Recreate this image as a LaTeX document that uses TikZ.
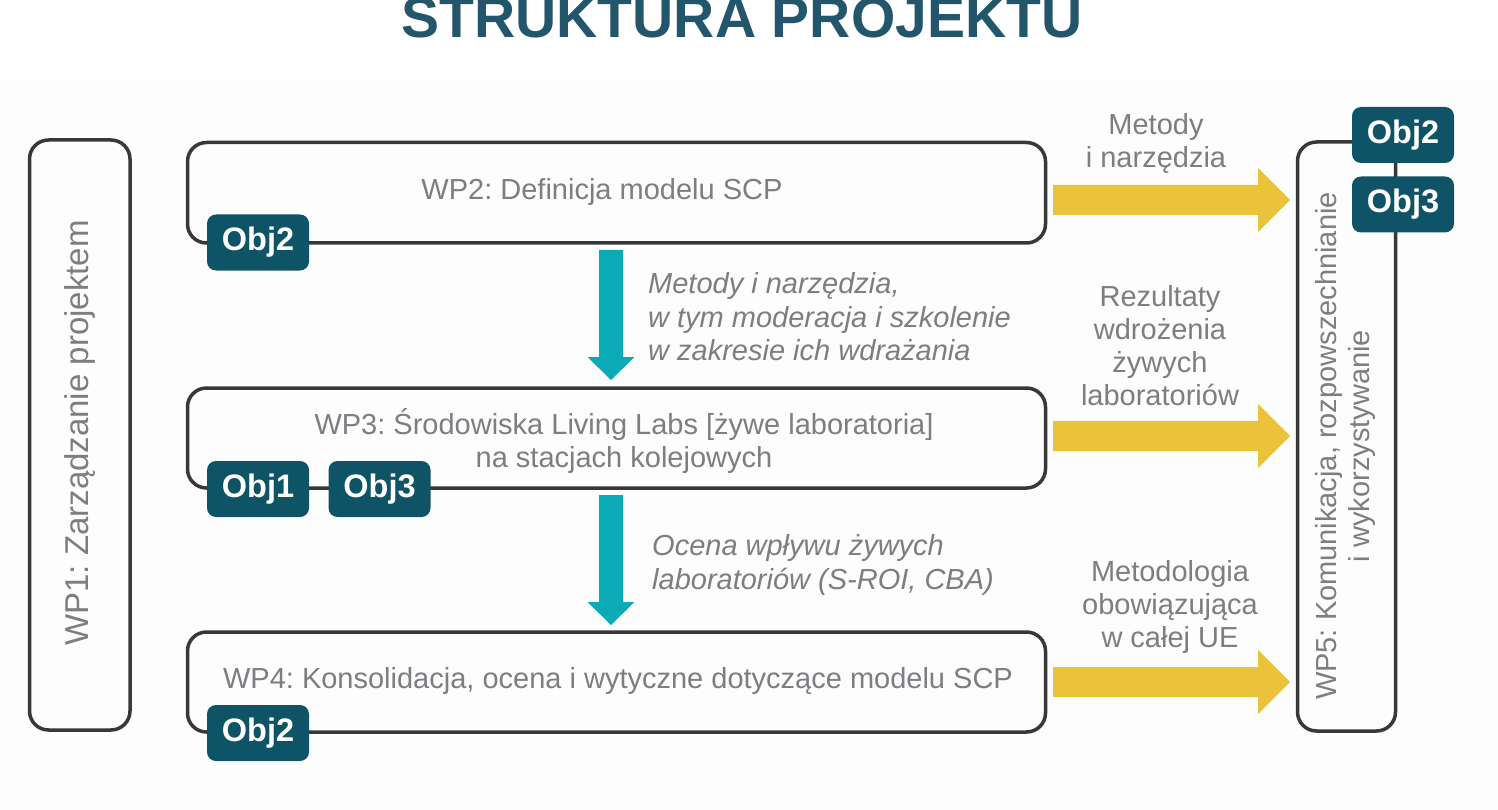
\documentclass[tikz,border=0pt]{standalone}
\usepackage{fontspec}
\setmainfont{Liberation Sans}
\usetikzlibrary{calc}
\frenchspacing
\definecolor{titlec}{HTML}{23566A}
\definecolor{objc}{HTML}{0F5466}
\definecolor{linec}{HTML}{383838}
\definecolor{txtc}{HTML}{7D7D82}
\definecolor{cyanc}{HTML}{0AABB6}
\definecolor{yelc}{HTML}{EBC33A}
\definecolor{bgc}{HTML}{FDFDFD}
\newcommand\myharrow[2]{%
  \fill[yelc] ($(#1)+(0,-15)$) -- ($(#2)+(-32,-15)$) -- ($(#2)+(-32,-32)$) -- (#2)
    -- ($(#2)+(-32,32)$) -- ($(#2)+(-32,15)$) -- ($(#1)+(0,15)$) -- cycle;}
\newcommand\myvarrow[2]{%
  \fill[cyanc] ($(#1)+(-12,0)$) -- ($(#2)+(-12,-23)$) -- ($(#2)+(-23.5,-23)$) -- (#2)
    -- ($(#2)+(23.5,-23)$) -- ($(#2)+(12,-23)$) -- ($(#1)+(12,0)$) -- cycle;}
\tikzset{
  box/.style={draw=linec, line width=3.5pt, rounded corners=19pt, inner sep=0pt},
  obj/.style={fill=objc, rounded corners=9pt, minimum width=102pt, minimum height=56pt,
    text=white, font=\fontsize{32.5}{32.5}\selectfont\bfseries, inner sep=0pt},
  lbl/.style={text=txtc, font=\fontsize{29}{33}\selectfont, align=center, inner sep=0pt},
  ital/.style={text=txtc, font=\fontsize{29}{33.5}\selectfont\itshape, align=left, inner sep=0pt},
}
\begin{document}
\begin{tikzpicture}[x=1pt,y=-1pt]
\useasboundingbox (0,0) rectangle (1498,810);
\fill[white] (0,0) rectangle (1498,810);
\fill[bgc] (0,80) rectangle (1498,810);

% title
\node[font=\fontsize{57}{57}\selectfont\bfseries, text=titlec, anchor=base, inner sep=0pt] (title) at (742,38) {STRUKTURA PROJEKTU};

% boxes
\node[box, minimum width=100.5pt, minimum height=590pt] (wp1) at (79.75,435) {};
\node[box, minimum width=858pt, minimum height=100.5pt] (wp2) at (616.5,192.75) {};
\node[box, minimum width=858pt, minimum height=100pt] (wp3) at (616.5,438) {};
\node[box, minimum width=858pt, minimum height=100pt] (wp4) at (616.5,682) {};
\node[box, minimum width=98pt, minimum height=589pt] (wp5) at (1346.5,436.5) {};

% box texts
\node[lbl, rotate=90, font=\fontsize{33}{33}\selectfont] (wp1t) at (80,433) {WP1: Zarządzanie projektem};
\node[lbl] (wp2t) at (602,192) {WP2: Definicja modelu SCP};
\node[lbl] (wp3t) at (624,441) {WP3: Środowiska Living Labs [żywe laboratoria]\\na stacjach kolejowych};
\node[lbl] (wp4t) at (618,681) {WP4: Konsolidacja, ocena i wytyczne dotyczące modelu SCP};
\node[lbl, rotate=90] (wp5t) at (1345,446) {WP5: Komunikacja, rozpowszechnianie\\i wykorzystywanie};

% vertical arrows
\coordinate (ca1s) at (611,250); \coordinate (ca1e) at (611,380);
\coordinate (ca2s) at (611,495); \coordinate (ca2e) at (611,625);
\myvarrow{ca1s}{ca1e}
\myvarrow{ca2s}{ca2e}
\node[ital, anchor=west] (l1) at (648,317) {Metody i narzędzia,\\w tym moderacja i szkolenie\\w zakresie ich wdrażania};
\node[ital, anchor=west] (l2) at (652,565) {Ocena wpływu żywych\\laboratoriów (S-ROI, CBA)};

% horizontal arrows
\coordinate (ya1s) at (1053,200); \coordinate (ya1e) at (1290,200);
\coordinate (ya2s) at (1053,436); \coordinate (ya2e) at (1290,436);
\coordinate (ya3s) at (1053,682); \coordinate (ya3e) at (1290,682);
\myharrow{ya1s}{ya1e}
\myharrow{ya2s}{ya2e}
\myharrow{ya3s}{ya3e}
\node[lbl] (r1) at (1156,144) {Metody\\i narzędzia};
\node[lbl] (r2) at (1160,346) {Rezultaty\\wdrożenia\\żywych\\laboratoriów};
\node[lbl] (r3) at (1170,607) {Metodologia\\obowiązująca\\w całej UE};

% objective badges
\node[obj] (o2a) at (258,242.5) {Obj2};
\node[obj] (o1) at (258,489) {Obj1};
\node[obj] (o3) at (379.5,489) {Obj3};
\node[obj] (o2b) at (258,733) {Obj2};
\node[obj] (o2r) at (1403,135) {Obj2};
\node[obj] (o3r) at (1403,204.5) {Obj3};
\end{tikzpicture}
\end{document}
